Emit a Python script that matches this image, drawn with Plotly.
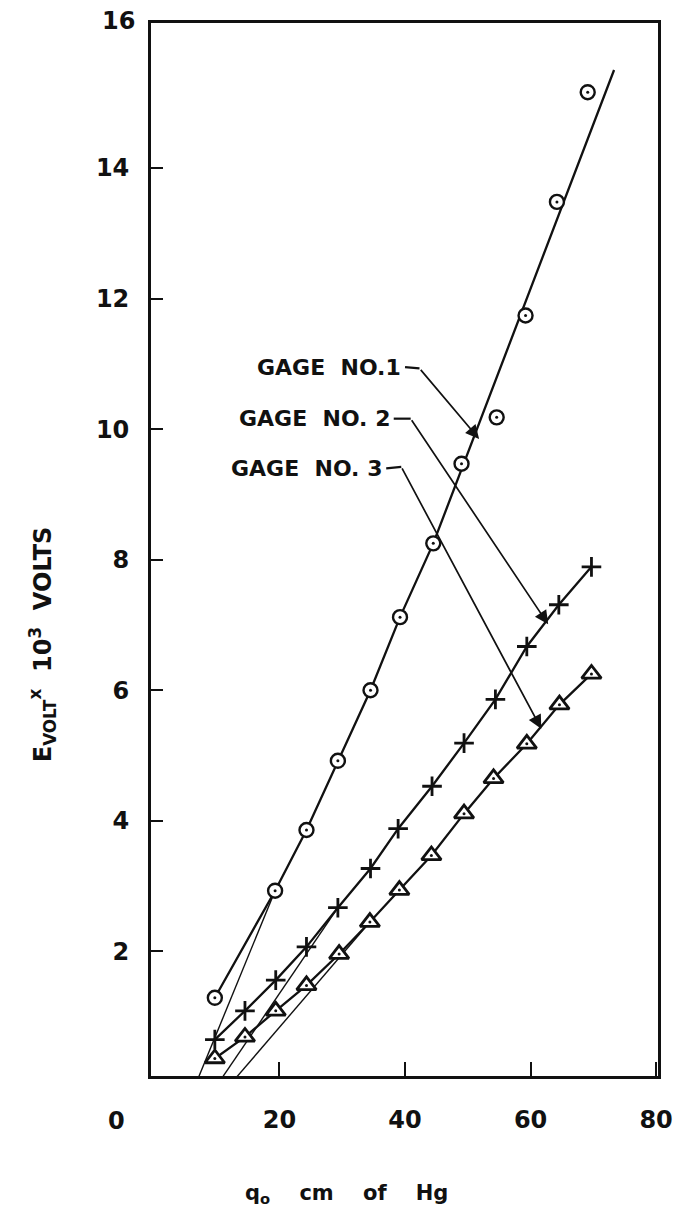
import plotly.graph_objects as go

# ---------------- data ----------------
# pressure q0, cm of Hg
q_g1 = [9.7, 19.3, 24.3, 29.3, 34.5, 39.2, 44.5, 49.0, 54.6, 59.2, 64.2, 69.1]
e_g1 = [1.29, 2.93, 3.86, 4.92, 6.00, 7.12, 8.25, 9.47, 10.18, 11.74, 13.48, 15.16]

q_g2 = [9.7, 14.5, 19.4, 24.3, 29.3, 34.5, 38.9, 44.3, 49.4, 54.4, 59.4, 64.5, 69.7]
e_g2 = [0.65, 1.09, 1.56, 2.07, 2.67, 3.27, 3.88, 4.53, 5.19, 5.86, 6.67, 7.31, 7.89]

q_g3 = [9.7, 14.5, 19.4, 24.3, 29.5, 34.4, 39.1, 44.2, 49.4, 54.1, 59.4, 64.6, 69.7]
e_g3 = [0.36, 0.69, 1.09, 1.48, 1.96, 2.45, 2.94, 3.47, 4.11, 4.65, 5.18, 5.78, 6.25]

# Gage 1 drawn curve: through the low points, then a straight fit
curve_g1_q = [9.7, 19.3, 24.3, 29.3, 34.5, 39.2, 44.5, 73.3]
curve_g1_e = [1.29, 2.93, 3.86, 4.92, 6.00, 7.12, 8.25, 15.50]

# thin extrapolation lines to the axis
extrap_g1_q = [6.8, 19.3]
extrap_g1_e = [0.0, 2.93]
extrap_g2_q = [10.4, 29.3]
extrap_g2_e = [0.0, 2.67]
extrap_g3_q = [12.5, 34.4]
extrap_g3_e = [0.0, 2.45]

# labels with leader lines: text end, leader corner, arrow tip
labels = ["GAGE  NO.1", "GAGE  NO. 2", "GAGE  NO. 3"]
label_q = [39.7, 37.9, 36.7]
label_e = [10.95, 10.16, 9.40]
corner_q = [42.3, 40.9, 39.4]
corner_e = [10.93, 10.16, 9.42]
tip_q = [51.8, 62.8, 61.7]
tip_e = [9.85, 7.01, 5.41]

x_ticks = [20, 40, 60, 80]
y_ticks = [2, 4, 6, 8, 10, 12, 14]

FONT = "DejaVu Sans"
BLACK = "#111111"
BOLD = "bold"

fig = go.Figure()

# thin extrapolation lines
for qx, ey in [(extrap_g1_q, extrap_g1_e), (extrap_g2_q, extrap_g2_e), (extrap_g3_q, extrap_g3_e)]:
    fig.add_trace(go.Scatter(x=qx, y=ey, mode="lines",
                             line=dict(color=BLACK, width=1.4), hoverinfo="skip", showlegend=False))

# Gage 1 curve
fig.add_trace(go.Scatter(x=curve_g1_q, y=curve_g1_e, mode="lines",
                         line=dict(color=BLACK, width=2.3), showlegend=False))
# Gage 1 circles
fig.add_trace(go.Scatter(x=q_g1, y=e_g1, mode="markers",
                         marker=dict(symbol="circle", size=14, color="white",
                                     line=dict(color=BLACK, width=2.4)),
                         name="Gage No. 1", showlegend=False))
# Gage 2 crosses
fig.add_trace(go.Scatter(x=q_g2, y=e_g2, mode="lines+markers",
                         line=dict(color=BLACK, width=2.3),
                         marker=dict(symbol="cross-thin", size=14,
                                     line=dict(color=BLACK, width=2.8)),
                         name="Gage No. 2", showlegend=False))
# Gage 3 triangles
fig.add_trace(go.Scatter(x=q_g3, y=e_g3, mode="lines+markers",
                         line=dict(color=BLACK, width=2.3),
                         marker=dict(symbol="triangle-up", size=17, color="white",
                                     line=dict(color=BLACK, width=2.8)),
                         name="Gage No. 3", showlegend=False))
# centre dots
fig.add_trace(go.Scatter(x=q_g1 + q_g3, y=e_g1 + e_g3, mode="markers",
                         marker=dict(symbol="circle", size=3, color=BLACK),
                         hoverinfo="skip", showlegend=False))

annotations = []
shapes = []
for i, txt in enumerate(labels):
    annotations.append(dict(x=label_q[i], y=label_e[i], xref="x", yref="y",
                            text=txt, showarrow=False, xanchor="right", yanchor="middle",
                            font=dict(family=FONT, size=22, color=BLACK, weight=BOLD)))
    shapes.append(dict(type="line", xref="x", yref="y",
                       x0=label_q[i] + 0.3, y0=label_e[i], x1=corner_q[i], y1=corner_e[i],
                       line=dict(color=BLACK, width=2.2)))
    annotations.append(dict(x=tip_q[i], y=tip_e[i], xref="x", yref="y",
                            ax=corner_q[i], ay=corner_e[i], axref="x", ayref="y",
                            text="", showarrow=True, arrowhead=2, arrowsize=1.6,
                            arrowwidth=1.7, arrowcolor=BLACK, standoff=0))

# corner labels
annotations.append(dict(x=-0.069, y=-0.043, xref="paper", yref="paper", text="0",
                        showarrow=False, xanchor="center", yanchor="middle",
                        font=dict(family=FONT, size=24, color=BLACK, weight=BOLD)))
annotations.append(dict(x=-0.065, y=1.002, xref="paper", yref="paper", text="16",
                        showarrow=False, xanchor="center", yanchor="middle",
                        font=dict(family=FONT, size=24, color=BLACK, weight=BOLD)))
# axis titles
annotations.append(dict(x=-0.215, y=0.41, xref="paper", yref="paper",
                        text="E<sub>VOLT</sub><sup>x</sup>  10<sup>3</sup>  VOLTS",
                        textangle=-90, showarrow=False, xanchor="center", yanchor="middle",
                        font=dict(family=FONT, size=24, color=BLACK, weight=BOLD)))
annotations.append(dict(x=0.386, y=-0.112, xref="paper", yref="paper",
                        text="q<sub>o</sub>    cm    of    Hg",
                        showarrow=False, xanchor="center", yanchor="middle",
                        font=dict(family=FONT, size=21, color=BLACK, weight=BOLD)))

# the page adds an 8 px body margin, so the figure is 8 px smaller than the window
fig.update_layout(
    width=677, height=1212,
    margin=dict(l=143, r=13, t=14, b=144),
    paper_bgcolor="white", plot_bgcolor="white",
    annotations=annotations, shapes=shapes,
    font=dict(family=FONT, color=BLACK),
)
fig.update_xaxes(range=[-0.47, 80.3], tickvals=x_ticks, ticktext=[str(v) for v in x_ticks],
                 ticks="inside", ticklen=14, tickwidth=2.2, tickcolor=BLACK,
                 showline=True, linewidth=2.8, linecolor=BLACK, mirror=True,
                 showgrid=False, zeroline=False, ticklabelstandoff=20,
                 tickfont=dict(family=FONT, size=24, color=BLACK, weight=BOLD))
fig.update_yaxes(range=[0.092, 16.22], tickvals=y_ticks, ticktext=[str(v) for v in y_ticks],
                 ticks="inside", ticklen=12, tickwidth=2.2, tickcolor=BLACK,
                 showline=True, linewidth=2.8, linecolor=BLACK, mirror=True,
                 showgrid=False, zeroline=False, ticklabelstandoff=14,
                 tickfont=dict(family=FONT, size=24, color=BLACK, weight=BOLD))

fig.write_html("out.html")
